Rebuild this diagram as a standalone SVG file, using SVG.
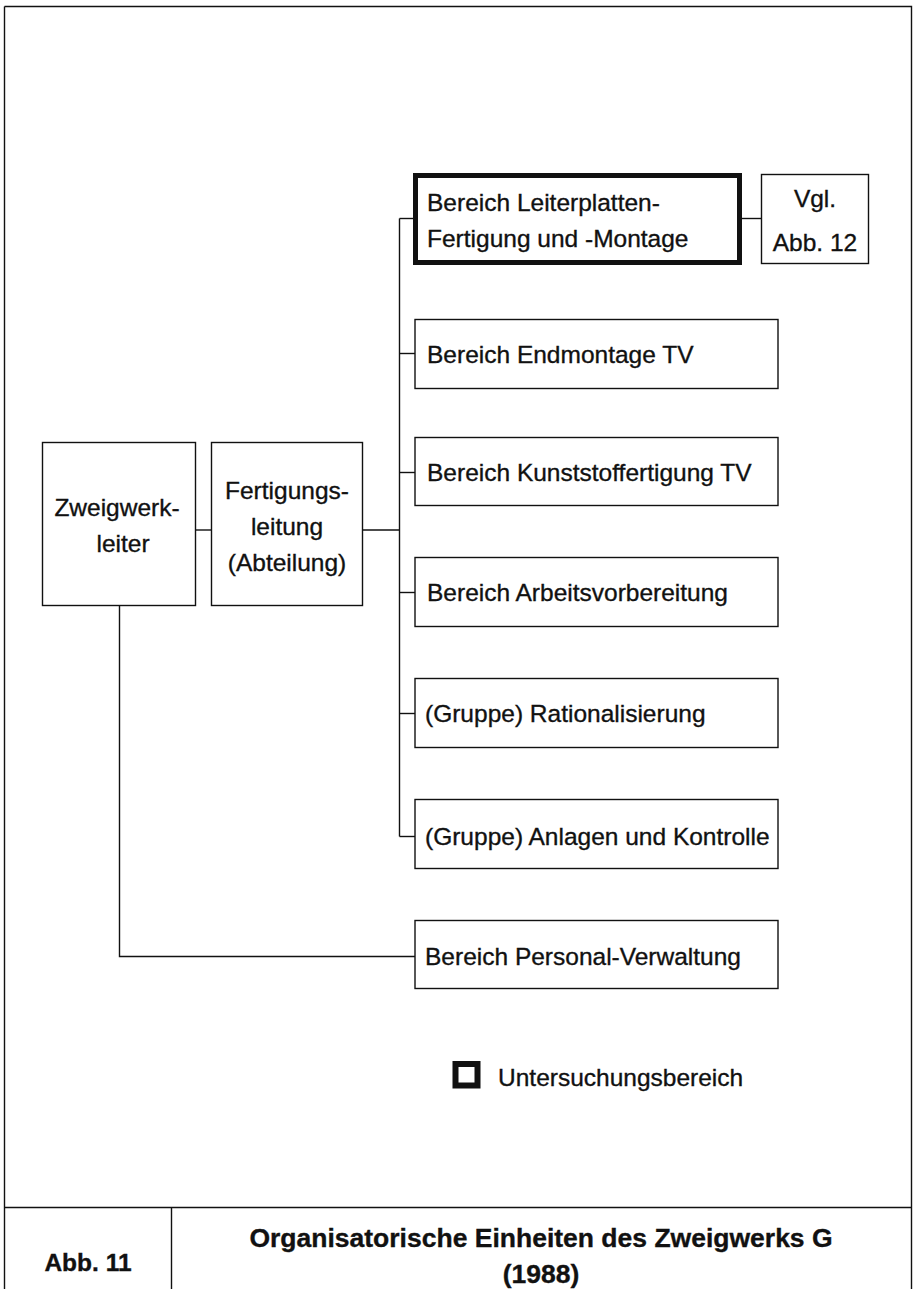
<svg xmlns="http://www.w3.org/2000/svg" width="916" height="1289" viewBox="0 0 916 1289">
<style>
.box{fill:#fff;stroke:#111;stroke-width:1.4}
.thick{fill:#fff;stroke:#111;stroke-width:5}
.ln{fill:none;stroke:#111;stroke-width:1.4}
.t{font-family:"Liberation Sans",Arial,sans-serif;font-size:24.5px;fill:#111;stroke:#111;stroke-width:0.35}
.c{text-anchor:middle}
.b{font-weight:bold}
.ttl{font-size:26.5px}
</style>
<rect x="0" y="0" width="916" height="1289" fill="#fff"/>
<g id="frame" class="ln">
<path d="M4.5 6.5 H911.5 V1289 M4.5 6.5 V1289"/>
<path d="M4.5 1207.5 H911.5 M171.5 1207.5 V1289"/>
</g>
<g id="connectors" class="ln">
<path d="M196 530 H211"/>
<path d="M362 530 H399.5"/>
<path d="M399.5 218.5 V836.5"/>
<path d="M399.5 218.5 H415"/>
<path d="M399.5 353.5 H415"/>
<path d="M399.5 472.5 H415"/>
<path d="M399.5 592.5 H415"/>
<path d="M399.5 713.5 H415"/>
<path d="M399.5 836.5 H415"/>
<path d="M742 218.5 H761"/>
<path d="M119.5 606 V956.5 H415"/>
</g>
<g id="zweigwerkleiter">
<rect class="box" x="42.5" y="442.5" width="153" height="163"/>
<text class="t c" x="117" y="516">Zweigwerk-</text>
<text class="t c" x="123" y="552">leiter</text>
</g>
<g id="fertigungsleitung">
<rect class="box" x="211.5" y="442.5" width="151" height="163"/>
<text class="t c" x="287" y="499">Fertigungs-</text>
<text class="t c" x="287" y="535">leitung</text>
<text class="t c" x="287" y="571">(Abteilung)</text>
</g>
<g id="leiterplatten">
<rect class="thick" x="415.5" y="175.5" width="324" height="87"/>
<text class="t" x="427" y="211">Bereich  Leiterplatten-</text>
<text class="t" x="427" y="247">Fertigung und -Montage</text>
</g>
<g id="vgl">
<rect class="box" x="761.5" y="174.5" width="107" height="89"/>
<text class="t c" x="815" y="207">Vgl.</text>
<text class="t c" x="815" y="251">Abb. 12</text>
</g>
<g id="endmontage">
<rect class="box" x="415" y="319.5" width="363" height="69"/>
<text class="t" x="427" y="363">Bereich Endmontage TV</text>
</g>
<g id="kunststoff">
<rect class="box" x="415" y="437.5" width="363" height="68"/>
<text class="t" x="427" y="481">Bereich Kunststoffertigung TV</text>
</g>
<g id="arbeitsvorbereitung">
<rect class="box" x="415" y="557.5" width="363" height="69"/>
<text class="t" x="427" y="601">Bereich Arbeitsvorbereitung</text>
</g>
<g id="rationalisierung">
<rect class="box" x="415" y="678.5" width="363" height="69"/>
<text class="t" x="425" y="722">(Gruppe) Rationalisierung</text>
</g>
<g id="anlagen">
<rect class="box" x="415" y="799.5" width="363" height="69"/>
<text class="t" x="425" y="845">(Gruppe) Anlagen und Kontrolle</text>
</g>
<g id="personal">
<rect class="box" x="415" y="920.5" width="363" height="68"/>
<text class="t" x="425" y="965">Bereich Personal-Verwaltung</text>
</g>
<g id="legend">
<rect x="455.5" y="1064" width="22" height="21.5" fill="#fff" stroke="#111" stroke-width="6"/>
<text class="t" x="498" y="1086">Untersuchungsbereich</text>
</g>
<g id="caption">
<text class="t b c" x="88" y="1271">Abb. 11</text>
<text class="t b c ttl" x="541" y="1247">Organisatorische Einheiten des Zweigwerks G</text>
<text class="t b c ttl" x="541" y="1283">(1988)</text>
</g>
</svg>
